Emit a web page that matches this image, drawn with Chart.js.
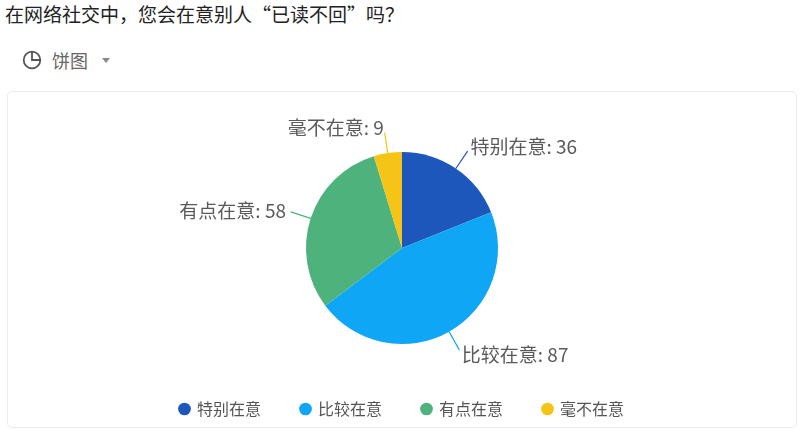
<!DOCTYPE html>
<html>
<head>
<meta charset="utf-8">
<script src="https://cdn.jsdelivr.net/npm/chart.js@4/dist/chart.umd.min.js"></script>
<style>
  html, body { margin: 0; padding: 0; background: #fff; }
  body { width: 800px; height: 430px; position: relative; overflow: hidden;
         font-family: "Noto Sans CJK SC", "Noto Sans", sans-serif; }
  #title { position: absolute; left: 5px; top: 1px; font-size: 19px; line-height: 26px; color: #222; }
  #switch { position: absolute; left: 22px; top: 48px; height: 24px; display: flex; align-items: center;
            font-size: 18px; color: #666; }
  #switch svg { margin-right: 10px; }
  #switch .caret { margin-left: 14px; width: 0; height: 0; border-left: 4px solid transparent;
                   border-right: 4px solid transparent; border-top: 5px solid #888; }
  #card { position: absolute; left: 7px; top: 91px; width: 788px; height: 335px;
          border: 1px solid #ececec; border-radius: 5px; }
  #card canvas { position: absolute; left: 0; top: 0; }
</style>
</head>
<body>
<div id="title">在网络社交中，您会在意别人“已读不回”吗？</div>
<div id="switch">
  <svg width="20" height="20" viewBox="0 0 20 20">
    <circle cx="10" cy="10" r="8.3" fill="none" stroke="#555" stroke-width="1.8"/>
    <path d="M10 1.7 V10 H18.3" fill="none" stroke="#555" stroke-width="1.8"/>
  </svg>
  <span>饼图</span><span class="caret"></span>
</div>
<div id="card"><canvas id="pieChart" width="788" height="335"></canvas></div>
<script>
"use strict"
//pie data
var categories = ["特别在意", "比较在意", "有点在意", "毫不在意"];
var counts = [36, 87, 58, 9];
var colors = ["#1d57bb", "#0ea6f5", "#4db27c", "#f6c416"];

//outside labels with short leader lines
var outsideLabels = {
  id: "outsideLabels",
  afterDatasetsDraw: function(chart) {
    var ctx = chart.ctx;
    var meta = chart.getDatasetMeta(0);
    ctx.save();
    ctx.font = "19px 'Noto Sans CJK SC', sans-serif";
    ctx.textBaseline = "middle";
    meta.data.forEach(function(arc, i) {
      var p = arc.getProps(["x", "y", "startAngle", "endAngle", "outerRadius"], true);
      var mid = (p.startAngle + p.endAngle) / 2;
      var cos = Math.cos(mid), sin = Math.sin(mid);
      var r = p.outerRadius;
      ctx.strokeStyle = colors[i];
      ctx.lineWidth = 1.2;
      ctx.beginPath();
      ctx.moveTo(p.x + cos * r, p.y + sin * r);
      ctx.lineTo(p.x + cos * (r + 21), p.y + sin * (r + 21));
      ctx.stroke();
      ctx.fillStyle = "#5a5a5a";
      ctx.textAlign = cos >= 0 ? "left" : "right";
      ctx.fillText(categories[i] + ": " + counts[i], p.x + cos * (r + 26), p.y + sin * (r + 26));
    });
    ctx.restore();
  }
};

var pieC = document.getElementById("pieChart");
var pieChart = new Chart(pieC, {
  type: "pie",
  data: {
    labels: categories,
    datasets: [{
      data: counts,
      backgroundColor: colors,
      borderWidth: 0,
      radius: 96
    }]
  },
  options: {
    responsive: false,
    animation: false,
    layout: { padding: { top: 43, bottom: 0 } },
    plugins: {
      tooltip: { enabled: false },
      legend: {
        position: "bottom",
        labels: {
          usePointStyle: true,
          pointStyle: "circle",
          boxWidth: 9,
          boxHeight: 9,
          padding: 40,
          color: "#555",
          font: { size: 16, family: "'Noto Sans CJK SC', sans-serif" }
        }
      }
    }
  },
  plugins: [outsideLabels]
});
</script>
</body>
</html>
